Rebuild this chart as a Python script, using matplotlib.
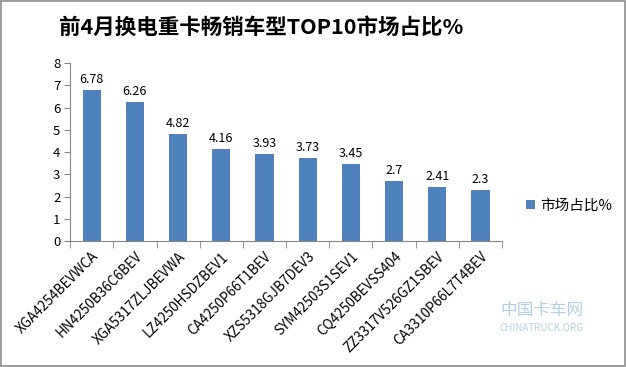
import matplotlib.pyplot as plt
import matplotlib as mpl
from matplotlib.patches import Rectangle

plt.rcParams['font.family'] = ['Noto Sans CJK SC', 'DejaVu Sans']

models = ['XGA4254BEVWCA', 'HN4250B36C6BEV', 'XGA5317ZLJBEVWA', 'LZ4250HSDZBEV1',
          'CA4250P66T1BEV', 'XZS5318GJB7DEV3', 'SYM42503S1SEV1', 'CQ4250BEVSS404',
          'ZZ3317V526GZ1SBEV', 'CA3310P66L7T4BEV']
share = [6.78, 6.26, 4.82, 4.16, 3.93, 3.73, 3.45, 2.7, 2.41, 2.3]
share_labels = ['6.78', '6.26', '4.82', '4.16', '3.93', '3.73', '3.45', '2.7', '2.41', '2.3']

bar_color = '#4F81BD'
axis_gray = '#868686'

fig = plt.figure(figsize=(6.26, 3.67), dpi=100)
fig.patches.append(Rectangle((0.002, 0.003), 0.996, 0.994, transform=fig.transFigure,
                             fill=False, edgecolor='#8c8c8c', lw=1.2))

ax = fig.add_axes([0.112, 0.343, 0.690, 0.485])
x = list(range(len(models)))
ax.bar(x, share, width=0.42, color=bar_color, label='市场占比%', zorder=2)
for xi, v, s in zip(x, share, share_labels):
    ax.text(xi, v + 0.18, s, ha='center', va='bottom', fontsize=9, color='black')

ax.set_xlim(-0.5, len(models) - 0.5)
ax.set_ylim(0, 8)
ax.set_yticks(range(0, 9))
ax.tick_params(axis='y', labelsize=9.5, length=4, color=axis_gray, pad=3)
ax.set_xticks(x)
ax.set_xticklabels(models, rotation=45, ha='right', rotation_mode='anchor', fontsize=9.8)
ax.tick_params(axis='x', length=0, pad=6)
ax.set_xticks([i + 0.5 for i in range(-1, len(models))], minor=True)
ax.tick_params(axis='x', which='minor', length=5, color=axis_gray)

for side in ['top', 'right']:
    ax.spines[side].set_visible(False)
for side in ['left', 'bottom']:
    ax.spines[side].set_color(axis_gray)

ax.legend(loc='center left', bbox_to_anchor=(1.025, 0.2), frameon=False,
          fontsize=10.5, handlelength=0.6, handleheight=0.6, handletextpad=0.4)

fig.text(0.418, 0.925, '前4月换电重卡畅销车型TOP10市场占比%', ha='center', va='center',
         fontsize=15.5, fontweight='bold')

# faint watermark
fig.text(0.865, 0.155, '中国卡车网', ha='center', va='center', fontsize=12,
         color='#9fc3dc', alpha=0.8)
fig.text(0.865, 0.105, 'CHINATRUCK.ORG', ha='center', va='center', fontsize=7,
         color='#9fc3dc', alpha=0.8)

fig.savefig('out.png', dpi=100)
